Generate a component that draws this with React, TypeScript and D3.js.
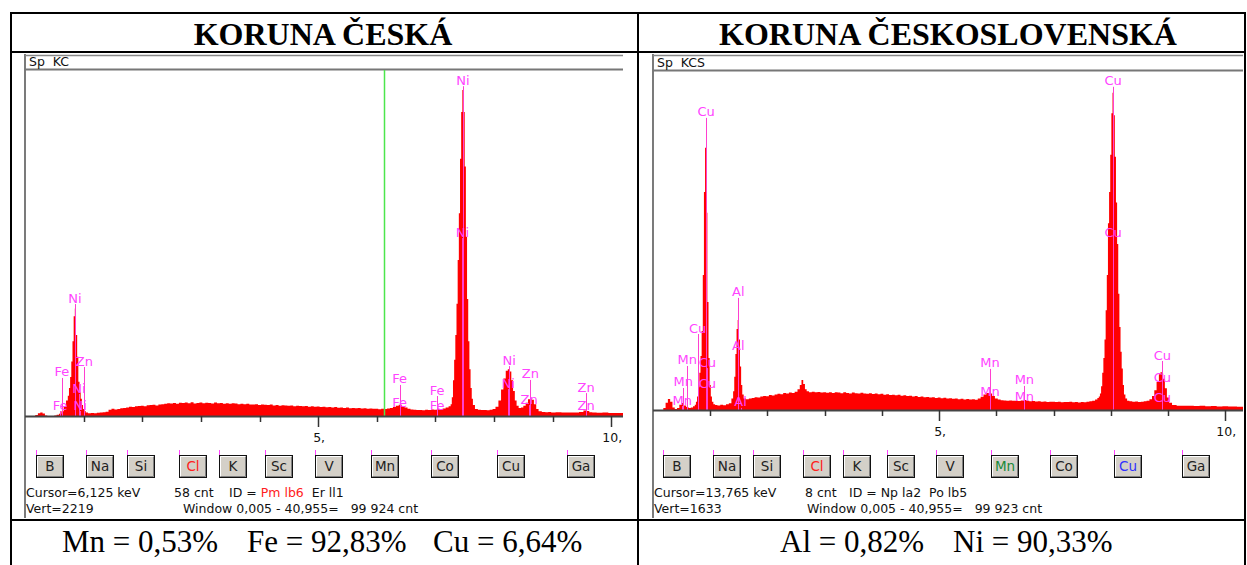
import React from 'react';
import * as d3 from 'd3';

// spectrum KC: [keV, counts]
const kcSpectrum: [number, number][] = [
  [0.0, 0], [0.15, 0], [0.2, 6], [0.24, 18], [0.28, 22], [0.32, 16], [0.36, 4], [0.4, 0], [0.48, 0], [0.52, 4],
  [0.56, 8], [0.6, 15], [0.64, 30], [0.68, 60], [0.72, 100], [0.74, 130], [0.76, 180], [0.78, 250], [0.8, 350],
  [0.82, 480], [0.84, 640], [0.86, 690], [0.88, 520], [0.9, 380], [0.92, 220], [0.94, 150], [0.96, 110], [0.98, 70],
  [1.0, 45], [1.02, 32], [1.05, 22], [1.1, 18], [1.15, 20], [1.2, 17], [1.25, 21], [1.3, 22], [1.35, 24], [1.4, 28],
  [1.45, 40], [1.5, 46], [1.55, 42], [1.6, 45], [1.65, 50], [1.7, 52], [1.75, 55], [1.8, 60], [1.85, 58], [1.9, 62],
  [1.95, 64], [2.0, 66], [2.05, 63], [2.1, 69], [2.15, 70], [2.2, 72], [2.25, 68], [2.3, 74], [2.35, 76], [2.4, 78],
  [2.45, 82], [2.5, 80], [2.55, 84], [2.6, 79], [2.65, 85], [2.7, 83], [2.75, 86], [2.8, 82], [2.85, 88], [2.9, 80],
  [2.95, 84], [3.0, 86], [3.05, 81], [3.1, 85], [3.15, 83], [3.2, 80], [3.25, 86], [3.3, 82], [3.35, 84], [3.4, 79],
  [3.45, 81], [3.5, 78], [3.55, 82], [3.6, 80], [3.65, 76], [3.7, 79], [3.75, 75], [3.8, 78], [3.85, 74], [3.9, 73],
  [3.95, 76], [4.0, 71], [4.05, 74], [4.1, 72], [4.15, 70], [4.2, 73], [4.25, 68], [4.3, 70], [4.35, 66], [4.4, 69],
  [4.45, 67], [4.5, 65], [4.55, 68], [4.6, 63], [4.65, 66], [4.7, 64], [4.75, 62], [4.8, 64], [4.85, 60], [4.9, 62],
  [4.95, 59], [5.0, 61], [5.05, 58], [5.1, 60], [5.15, 56], [5.2, 58], [5.25, 55], [5.3, 57], [5.35, 53], [5.4, 55],
  [5.45, 52], [5.5, 54], [5.55, 50], [5.6, 52], [5.65, 49], [5.7, 51], [5.75, 48], [5.8, 50], [5.85, 47], [5.9, 48],
  [5.95, 46], [6.0, 47], [6.05, 44], [6.1, 46], [6.15, 45], [6.2, 48], [6.25, 52], [6.3, 58], [6.35, 66], [6.4, 72],
  [6.45, 64], [6.5, 55], [6.55, 47], [6.6, 42], [6.65, 40], [6.7, 38], [6.75, 39], [6.8, 37], [6.85, 40], [6.9, 38],
  [6.95, 41], [7.0, 40], [7.05, 43], [7.1, 45], [7.15, 48], [7.2, 55], [7.25, 62], [7.27, 75], [7.29, 120],
  [7.31, 230], [7.33, 360], [7.35, 520], [7.37, 720], [7.39, 1000], [7.41, 1300], [7.43, 1650], [7.45, 1950],
  [7.47, 2090], [7.49, 1950], [7.51, 1600], [7.53, 1150], [7.55, 750], [7.57, 480], [7.59, 300], [7.61, 180],
  [7.63, 110], [7.65, 70], [7.7, 45], [7.75, 40], [7.8, 38], [7.85, 39], [7.9, 37], [7.95, 40], [8.0, 45], [8.05, 60],
  [8.1, 100], [8.14, 170], [8.18, 240], [8.22, 290], [8.25, 300], [8.28, 285], [8.31, 230], [8.34, 160], [8.37, 100],
  [8.4, 65], [8.44, 52], [8.48, 55], [8.52, 66], [8.56, 85], [8.6, 108], [8.63, 115], [8.66, 105], [8.7, 75],
  [8.74, 45], [8.78, 30], [8.85, 26], [8.9, 24], [8.95, 25], [9.0, 23], [9.1, 24], [9.2, 22], [9.3, 23], [9.4, 22],
  [9.5, 26], [9.55, 36], [9.6, 32], [9.65, 24], [9.7, 22], [9.8, 21], [9.9, 22], [10.0, 20], [10.1, 19], [10.2, 20],
];

// spectrum KCS: [keV, counts]
const kcsSpectrum: [number, number][] = [
  [0.0, 0], [0.16, 0], [0.2, 10], [0.24, 35], [0.28, 53], [0.32, 40], [0.36, 12], [0.4, 5], [0.44, 10], [0.48, 25],
  [0.52, 34], [0.56, 22], [0.6, 14], [0.64, 10], [0.68, 12], [0.72, 18], [0.74, 25], [0.76, 40], [0.78, 65],
  [0.8, 110], [0.82, 180], [0.84, 260], [0.86, 380], [0.88, 650], [0.9, 1050], [0.92, 1263], [0.94, 950], [0.96, 520],
  [0.98, 250], [1.0, 120], [1.02, 65], [1.04, 40], [1.07, 28], [1.1, 24], [1.15, 22], [1.2, 25], [1.25, 23],
  [1.3, 28], [1.35, 33], [1.39, 55], [1.41, 90], [1.43, 160], [1.45, 270], [1.47, 390], [1.49, 434], [1.51, 340],
  [1.53, 210], [1.55, 120], [1.57, 75], [1.6, 55], [1.65, 52], [1.7, 56], [1.75, 58], [1.8, 62], [1.85, 60],
  [1.9, 65], [1.95, 68], [2.0, 66], [2.05, 72], [2.1, 70], [2.15, 75], [2.2, 78], [2.25, 76], [2.3, 82], [2.35, 80],
  [2.4, 84], [2.45, 82], [2.5, 88], [2.55, 100], [2.58, 120], [2.61, 145], [2.64, 125], [2.67, 100], [2.7, 90],
  [2.75, 86], [2.8, 88], [2.85, 85], [2.9, 87], [2.95, 84], [3.0, 86], [3.05, 83], [3.1, 85], [3.15, 82], [3.2, 86],
  [3.25, 84], [3.3, 81], [3.35, 85], [3.4, 82], [3.45, 80], [3.5, 84], [3.55, 81], [3.6, 79], [3.65, 83], [3.7, 80],
  [3.75, 78], [3.8, 81], [3.85, 77], [3.9, 79], [3.95, 76], [4.0, 78], [4.05, 74], [4.1, 76], [4.15, 72], [4.2, 74],
  [4.25, 71], [4.3, 73], [4.35, 69], [4.4, 71], [4.45, 67], [4.5, 69], [4.55, 65], [4.6, 67], [4.65, 63], [4.7, 65],
  [4.75, 62], [4.8, 63], [4.85, 60], [4.9, 62], [4.95, 58], [5.0, 60], [5.05, 57], [5.1, 59], [5.15, 55], [5.2, 57],
  [5.25, 54], [5.3, 56], [5.35, 52], [5.4, 54], [5.45, 51], [5.5, 53], [5.55, 50], [5.6, 52], [5.65, 49], [5.7, 55],
  [5.75, 64], [5.8, 75], [5.85, 82], [5.9, 80], [5.95, 68], [6.0, 56], [6.05, 50], [6.1, 47], [6.15, 46], [6.2, 45],
  [6.25, 46], [6.3, 44], [6.35, 45], [6.4, 43], [6.45, 46], [6.5, 48], [6.55, 44], [6.6, 42], [6.65, 43], [6.7, 41],
  [6.75, 42], [6.8, 40], [6.85, 41], [6.9, 39], [6.95, 40], [7.0, 40], [7.05, 38], [7.1, 40], [7.15, 37], [7.2, 39],
  [7.25, 38], [7.3, 40], [7.35, 37], [7.4, 38], [7.45, 36], [7.5, 38], [7.55, 37], [7.6, 40], [7.65, 42], [7.7, 45],
  [7.75, 50], [7.78, 58], [7.8, 65], [7.82, 80], [7.84, 115], [7.86, 180], [7.88, 250], [7.9, 340], [7.92, 480],
  [7.94, 650], [7.96, 900], [7.98, 1050], [8.0, 1230], [8.02, 1430], [8.04, 1528], [8.06, 1420], [8.08, 1220],
  [8.1, 1000], [8.12, 800], [8.14, 560], [8.16, 400], [8.18, 280], [8.2, 200], [8.22, 120], [8.24, 75], [8.27, 55],
  [8.3, 45], [8.35, 42], [8.4, 40], [8.45, 41], [8.5, 39], [8.55, 40], [8.6, 42], [8.65, 45], [8.7, 52], [8.74, 68],
  [8.78, 95], [8.82, 135], [8.86, 172], [8.88, 183], [8.9, 176], [8.93, 150], [8.96, 105], [9.0, 60], [9.04, 35],
  [9.1, 24], [9.2, 21], [9.3, 20], [9.4, 21], [9.5, 19], [9.6, 20], [9.7, 18], [9.8, 19], [9.9, 17], [10.0, 18],
  [10.1, 17], [10.31, 16],
];

// KLM markers: [element, keV, marker height in counts]
const kcMarkers: [string, number, number][] = [
  ['Ni', 0.851, 718], ['Zn', 1.012, 314], ['Fe', 0.63, 244], ['Ni', 0.92, 141], ['Fe', 0.6, 32], ['Ni', 0.94, 32],
  ['Ni', 7.47, 2115], ['Ni', 7.46, 1141], ['Fe', 6.39, 199], ['Fe', 6.39, 51], ['Fe', 7.03, 128], ['Fe', 7.03, 26],
  ['Ni', 8.26, 320], ['Ni', 8.24, 173], ['Zn', 8.62, 231], ['Zn', 8.6, 70], ['Zn', 9.57, 147], ['Zn', 9.57, 26],
];
const kcsMarkers: [string, number, number][] = [
  ['Cu', 0.93, 1407], ['Cu', 0.78, 366], ['Mn', 0.6, 212], ['Cu', 0.95, 202], ['Mn', 0.53, 106], ['Cu', 0.95, 101],
  ['Mn', 0.51, 19], ['Al', 1.49, 540], ['Al', 1.49, 284], ['Al', 1.53, 10], ['Cu', 8.04, 1557], ['Cu', 8.04, 824],
  ['Mn', 5.89, 198], ['Mn', 5.89, 58], ['Mn', 6.49, 116], ['Mn', 6.49, 34], ['Cu', 8.9, 236], ['Cu', 8.9, 130],
  ['Cu', 8.9, 29],
];

const buttonElements = ['B', 'Na', 'Si', 'Cl', 'K', 'Sc', 'V', 'Mn', 'Co', 'Cu', 'Ga'];
const buttonEnergies = [0.183, 1.041, 1.74, 2.622, 3.314, 4.09, 4.952, 5.899, 6.93, 8.048, 9.252];
const tickValues = [1, 2, 3, 4, 5, 6, 7, 8, 9, 10];
const tickLabels: Record<number, string> = { 5: '5,', 10: '10,' };

const headers = ['KORUNA ČESKÁ', 'KORUNA ČESKOSLOVENSKÁ'];
const kcResults = ['Mn = 0,53%', 'Fe = 92,83%', 'Cu = 6,64%'];
const kcsResults = ['Al = 0,82%', 'Ni = 90,33%'];

const UI_FONT = '"DejaVu Sans", Verdana, sans-serif';
const SERIF = '"Liberation Serif", "Times New Roman", serif';

const Panel = ({ p }: { p: any }) => {
  const x = d3.scaleLinear().domain([0, p.maxKeV]).range([p.left, p.right]);
  const y = d3.scaleLinear().domain([0, p.vert]).range([p.base, p.top]);
  const area = d3
    .area<[number, number]>()
    .x((d) => x(d[0]))
    .y0(p.base)
    .y1((d) => y(d[1]))
    .curve(d3.curveStep);

  return (
    <g>
      {/* window frame */}
      <line x1={p.left} x2={p.left} y1={54} y2={518} stroke="#222" strokeWidth={1.2} />
      <line x1={p.left} x2={p.right} y1={55.5} y2={55.5} stroke="#888" strokeWidth={1.5} />
      <line x1={p.left} x2={p.right} y1={p.top - 0.5} y2={p.top - 0.5} stroke="#777" strokeWidth={2} />
      <text x={p.left + 4} y={p.top - 4} fontFamily={UI_FONT} fontSize={12.5} fill="#111" style={{ whiteSpace: 'pre' }}>
        {p.title}
      </text>

      <path d={area(p.spectrum) as string} fill="#ff0000" />

      {p.cursor != null && (
        <line x1={Math.round(x(p.cursor)) + 0.5} x2={Math.round(x(p.cursor)) + 0.5} y1={p.top} y2={p.base}
          stroke="#4ce64c" strokeWidth={1.5} />
      )}

      {p.markers.map(([el, e, h]: [string, number, number], i: number) => (
        <g key={i}>
          <line x1={Math.round(x(e)) + 0.5} x2={Math.round(x(e)) + 0.5} y1={y(h)} y2={p.base} stroke="#ff3fd0" strokeWidth={1} />
          <text x={x(e)} y={y(h) - 1.5} textAnchor="middle" fontFamily={UI_FONT} fontSize={13} fill="#ff44ff">
            {el}
          </text>
        </g>
      ))}

      {/* axis */}
      <line x1={p.left} x2={p.right} y1={p.base + 0.5} y2={p.base + 0.5} stroke="#444" strokeWidth={2} />
      {tickValues.map((t) => (
        <g key={t}>
          <line x1={Math.round(x(t)) + 0.5} x2={Math.round(x(t)) + 0.5} y1={p.base} y2={p.base + (t % 5 === 0 ? 11 : 6)}
            stroke="#333" strokeWidth={1.5} />
          {tickLabels[t] && (
            <text x={x(t) + 1} y={p.base + 26} textAnchor="middle" fontFamily={UI_FONT} fontSize={12.5} fill="#111">
              {tickLabels[t]}
            </text>
          )}
        </g>
      ))}

      {/* element buttons */}
      {buttonElements.map((el, i) => {
        const bx = Math.round(x(buttonEnergies[i]));
        return (
          <g key={el}>
            <line x1={bx + 0.5} x2={bx + 0.5} y1={450} y2={456} stroke="#ff44ff" strokeWidth={1} />
            <rect x={bx + 0.5} y={455.5} width={27} height={22} fill="#d4d0c8" stroke="#111" strokeWidth={1} />
            <path d={`M${bx + 1.5},${476} V${456.5} H${bx + 27}`} fill="none" stroke="#fff" strokeWidth={1} />
            <path d={`M${bx + 1.5},${476.5} H${bx + 26.5} V${456.5}`} fill="none" stroke="#808080" strokeWidth={1} />
            <text x={bx + 14} y={471} textAnchor="middle" fontFamily={UI_FONT} fontSize={13.5} fill={p.buttonColors[el] || '#222'}>
              {el}
            </text>
          </g>
        );
      })}

      {/* status lines */}
      <text y={497} fontFamily={UI_FONT} fontSize={12.5} fill="#111" style={{ whiteSpace: 'pre' }}>
        <tspan x={p.left + 1}>{p.cursorText}</tspan>
        <tspan x={p.left + p.cntOffset}>{p.cntText}</tspan>
        <tspan x={p.left + p.idOffset}>ID = </tspan>
        <tspan fill={p.idColor}>{p.id1}</tspan>
        <tspan>{'  ' + p.id2}</tspan>
      </text>
      <text y={513} fontFamily={UI_FONT} fontSize={12.5} fill="#111" style={{ whiteSpace: 'pre' }}>
        <tspan x={p.left + 1}>{p.vertText}</tspan>
        <tspan x={p.left + p.windowOffset}>{p.windowText}</tspan>
      </text>
    </g>
  );
};

const panels = [
  {
    title: 'Sp  KC', spectrum: kcSpectrum, markers: kcMarkers, maxKeV: 10.2, vert: 2219,
    left: 25, right: 623, top: 70, base: 416, cursor: 6.125,
    buttonColors: { Cl: '#ff2020' } as Record<string, string>,
    cursorText: 'Cursor=6,125 keV', cntText: '58 cnt', cntOffset: 149, idOffset: 204,
    id1: 'Pm lb6', id2: 'Er ll1', idColor: '#ff2020',
    vertText: 'Vert=2219', windowText: 'Window 0,005 - 40,955=   99 924 cnt', windowOffset: 158,
  },
  {
    title: 'Sp  KCS', spectrum: kcsSpectrum, markers: kcsMarkers, maxKeV: 10.31, vert: 1633,
    left: 653, right: 1243, top: 71, base: 410, cursor: null,
    buttonColors: { Cl: '#ff2020', Mn: '#1a8a3a', Cu: '#3030ff' } as Record<string, string>,
    cursorText: 'Cursor=13,765 keV', cntText: '8 cnt', cntOffset: 152, idOffset: 196,
    id1: 'Np la2', id2: 'Po lb5', idColor: '#111',
    vertText: 'Vert=1633', windowText: 'Window 0,005 - 40,955=   99 923 cnt', windowOffset: 154,
  },
];

const App = () => {
  return (
    <div style={{ position: 'absolute', left: 0, top: 0 }}>
      <svg width={1247} height={565} style={{ display: 'block', background: '#fff' }}>
        {/* table grid */}
        <g stroke="#000" strokeWidth={2}>
          <line x1={10} x2={1246} y1={13} y2={13} />
          <line x1={10} x2={1246} y1={52} y2={52} />
          <line x1={10} x2={1246} y1={520} y2={520} />
          <line x1={11} x2={11} y1={12} y2={565} />
          <line x1={638} x2={638} y1={12} y2={565} />
          <line x1={1245} x2={1245} y1={12} y2={565} />
        </g>
        <text x={323} y={45} textAnchor="middle" fontFamily={SERIF} fontWeight="bold" fontSize={32}>{headers[0]}</text>
        <text x={948} y={45} textAnchor="middle" fontFamily={SERIF} fontWeight="bold" fontSize={32}>{headers[1]}</text>

        {panels.map((p, i) => <Panel key={i} p={p} />)}

        <g fontFamily={SERIF} fontSize={31}>
          <text x={62} y={552}>{kcResults[0]}</text>
          <text x={247} y={552}>{kcResults[1]}</text>
          <text x={433} y={552}>{kcResults[2]}</text>
          <text x={780} y={552}>{kcsResults[0]}</text>
          <text x={953} y={552}>{kcsResults[1]}</text>
        </g>
      </svg>
    </div>
  );
};

export default App;
